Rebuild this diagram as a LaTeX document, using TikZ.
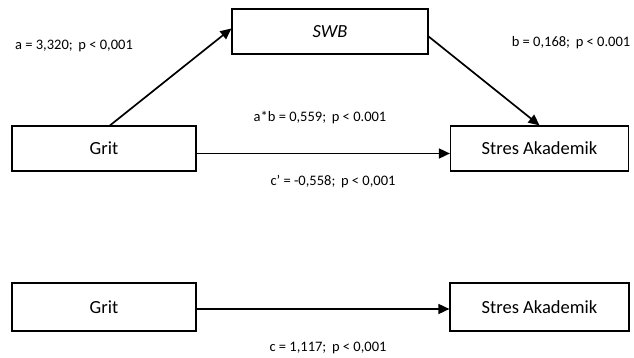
\documentclass[tikz,border=0pt]{standalone}
\usepackage{fontspec}
\setmainfont{Carlito}
\usepackage{xcolor}
\usetikzlibrary{arrows.meta}
\tikzset{
  varbox/.style={draw=black, line width=1.2pt, inner sep=0pt, minimum height=45pt, font=\fontsize{18.5}{20}\selectfont},
  coef/.style={font=\fontsize{14.5}{16}\selectfont},
  path/.style={line width=1.7pt, -{Triangle[length=11pt,width=10pt]}}
}

\begin{document}
\begin{tikzpicture}[x=1pt,y=-1pt]
    \useasboundingbox (0,0) rectangle (634,358);
    % mediation model
    \node[varbox, minimum width=184pt] (grit) at (104,148.5) {Grit};
    \node[varbox, minimum width=196pt] (swb) at (330,31.5) {\itshape SWB};
    \node[varbox, minimum width=178pt] (stres) at (539.5,148.5) {Stres Akademik};
    \draw[path] ([xshift=6pt]grit.north) -- ([yshift=3pt]swb.west);
    \draw[path] ([yshift=-5pt]swb.east) -- (stres.north);
    \draw[path] ([yshift=-5pt]grit.east) -- ([yshift=-5pt]stres.west);
    \node[coef] (a) at (74,46) {a = 3,320;\, p < 0,001};
    \node[coef] (b) at (571,43) {b = 0,168;\, p < 0.001};
    \node[coef] (ab) at (320,118) {a*b = 0,559;\, p < 0.001};
    \node[coef] (cp) at (333,182) {c’ = -0,558;\, p < 0,001};

    % total effect
    \node[varbox, minimum width=184pt, minimum height=48pt] (grit2) at (104,307) {Grit};
    \node[varbox, minimum width=179pt, minimum height=48pt] (stres2) at (539.5,307) {Stres Akademik};
    \draw[path] ([yshift=-2pt]grit2.east) -- ([yshift=-2pt]stres2.west);
    \node[coef] (c) at (328,348) {c = 1,117;\, p < 0,001};
\end{tikzpicture}
\end{document}
